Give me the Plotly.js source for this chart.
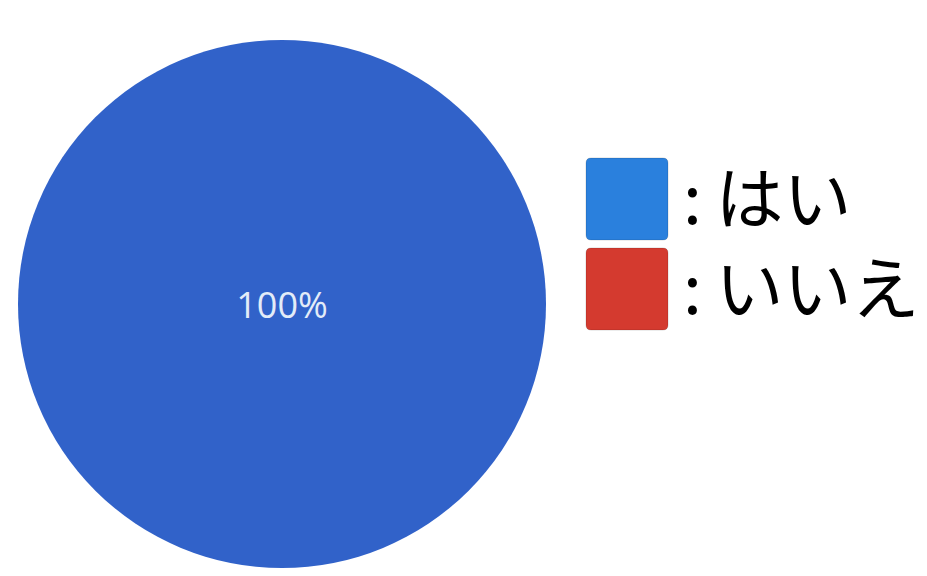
<!DOCTYPE html>
<html>
<head>
<meta charset="utf-8">
<script src="https://cdn.plot.ly/plotly-3.0.1.min.js"></script>
<style>html,body{margin:0;padding:0;background:#fff;}#chart{width:927px;height:576px;}</style>
</head>
<body>
<div id="chart"></div>
<script>
var categories = ["はい", "いいえ"];
var values = [100, 0];
var sliceColors = ["#3162C9", "#D63A2E"];
var legendColors = ["#2A80DD", "#D43A2F"];

var W = 927, H = 576;
function px(x){ return x / W; }
function py(y){ return 1 - y / H; }

var trace = {
  type: "pie",
  labels: categories,
  values: values,
  sort: false,
  direction: "clockwise",
  marker: {colors: sliceColors, line: {width: 0}},
  textinfo: "percent",
  texttemplate: "%{percent:.0%}",
  textposition: "inside",
  insidetextfont: {family: "Open Sans, sans-serif", size: 36, color: "#E3ECF8"},
  hoverinfo: "none",
  showlegend: false,
  domain: {x: [px(18), px(546)], y: [py(568), py(40)]}
};

var shapes = [];
var annotations = [];
var boxTop = [158, 248];
for (var i = 0; i < categories.length; i++) {
  var x0 = 586, x1 = 668, y0 = boxTop[i], y1 = boxTop[i] + 82, r = 5;
  var path = "M" + px(x0 + r) + "," + py(y0) +
    " L" + px(x1 - r) + "," + py(y0) +
    " Q" + px(x1) + "," + py(y0) + " " + px(x1) + "," + py(y0 + r) +
    " L" + px(x1) + "," + py(y1 - r) +
    " Q" + px(x1) + "," + py(y1) + " " + px(x1 - r) + "," + py(y1) +
    " L" + px(x0 + r) + "," + py(y1) +
    " Q" + px(x0) + "," + py(y1) + " " + px(x0) + "," + py(y1 - r) +
    " L" + px(x0) + "," + py(y0 + r) +
    " Q" + px(x0) + "," + py(y0) + " " + px(x0 + r) + "," + py(y0) + " Z";
  shapes.push({type: "path", xref: "paper", yref: "paper", path: path,
    fillcolor: legendColors[i], line: {color: "rgba(0,0,0,0.15)", width: 1}});
  annotations.push({xref: "paper", yref: "paper", x: px(681), y: py(boxTop[i] + 36),
    xanchor: "left", yanchor: "middle", showarrow: false,
    text: ":\u2009" + categories[i],
    font: {family: "Noto Sans CJK JP, sans-serif", size: 68, color: "#000"}});
}

var layout = {
  width: W, height: H,
  margin: {l: 0, r: 0, t: 0, b: 0},
  paper_bgcolor: "#fff",
  showlegend: false,
  shapes: shapes,
  annotations: annotations
};

Plotly.newPlot("chart", [trace], layout, {displayModeBar: false, staticPlot: true});
</script>
</body>
</html>
